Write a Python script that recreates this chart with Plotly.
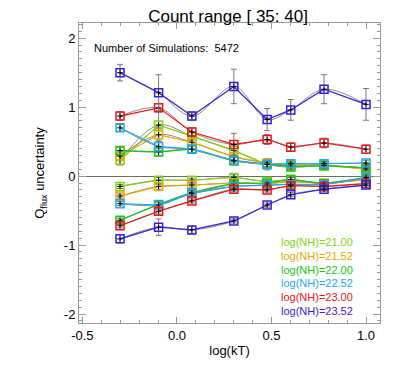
import plotly.graph_objects as go

# log(kT) grid
log_kt = [-0.301, -0.097, 0.079, 0.301, 0.477, 0.602, 0.778, 1.0]

nh_labels = ["log(NH)=21.00", "log(NH)=21.52", "log(NH)=22.00",
             "log(NH)=22.52", "log(NH)=23.00", "log(NH)=23.52"]
nh_colors = ["#7ed40e", "#eaa800", "#14c814", "#1fa8ec", "#ec1414", "#3a1cdc"]

# upper branch
pos_2100 = [0.23, 0.74, 0.58, 0.37, 0.17, 0.13, 0.15, 0.12]
pos_2152 = [0.29, 0.60, 0.49, 0.28, 0.19, 0.16, 0.16, 0.10]
pos_2200 = [0.37, 0.35, 0.39, 0.22, 0.17, 0.14, 0.15, 0.12]
pos_2252 = [0.70, 0.43, 0.39, 0.23, 0.17, 0.18, 0.18, 0.19]
pos_2300 = [0.87, 0.99, 0.64, 0.46, 0.53, 0.42, 0.48, 0.39]
pos_2352 = [1.50, 1.21, 0.87, 1.30, 0.82, 0.96, 1.26, 1.04]

# lower branch
neg_2100 = [-0.15, -0.06, -0.06, -0.02, -0.08, -0.05, -0.11, -0.02]
neg_2152 = [-0.29, -0.15, -0.13, -0.10, -0.11, -0.08, -0.10, -0.05]
neg_2200 = [-0.64, -0.41, -0.24, -0.11, -0.10, -0.05, -0.11, -0.03]
neg_2252 = [-0.40, -0.42, -0.25, -0.15, -0.13, -0.12, -0.12, -0.02]
neg_2300 = [-0.72, -0.51, -0.36, -0.19, -0.20, -0.14, -0.15, -0.11]
neg_2352 = [-0.91, -0.74, -0.78, -0.65, -0.42, -0.27, -0.19, -0.13]

# error bars
err_pos_2100 = [0.07, 0.20, 0.06, 0.08, 0.08, 0.05, 0.05, 0.05]
err_pos_2152 = [0.06, 0.10, 0.06, 0.06, 0.06, 0.04, 0.04, 0.04]
err_pos_2200 = [0.05, 0.06, 0.05, 0.05, 0.04, 0.04, 0.04, 0.04]
err_pos_2252 = [0.05, 0.08, 0.05, 0.04, 0.04, 0.04, 0.04, 0.04]
err_pos_2300 = [0.06, 0.06, 0.06, 0.16, 0.07, 0.06, 0.07, 0.06]
err_pos_2352 = [0.12, 0.26, 0.06, 0.25, 0.16, 0.15, 0.21, 0.23]
err_neg_small = [0.03, 0.04, 0.03, 0.04, 0.03, 0.03, 0.03, 0.03]
err_neg_2352 = [0.06, 0.12, 0.05, 0.03, 0.03, 0.03, 0.03, 0.03]

x_ticks = [-0.5, 0.0, 0.5, 1.0]
x_ticktext = ["-0.5", "0.0", "0.5", "1.0"]
y_ticks = [-2, -1, 0, 1, 2]
y_ticktext = ["-2", "-1", "0", "1", "2"]

FONT = "Liberation Sans, Arial, Helvetica, sans-serif"

series = [
    (pos_2100, err_pos_2100, 0), (pos_2152, err_pos_2152, 1),
    (pos_2200, err_pos_2200, 2), (pos_2252, err_pos_2252, 3),
    (pos_2300, err_pos_2300, 4), (pos_2352, err_pos_2352, 5),
    (neg_2100, err_neg_small, 0), (neg_2152, err_neg_small, 1),
    (neg_2200, err_neg_small, 2), (neg_2252, err_neg_small, 3),
    (neg_2300, err_neg_small, 4), (neg_2352, err_neg_2352, 5),
]

fig = go.Figure()

for vals, errs, k in series:
    # smooth grey curve underneath
    fig.add_trace(go.Scatter(
        x=log_kt, y=vals, mode="lines",
        line=dict(color="#8c8c8c", width=1, shape="spline", smoothing=1.0),
        hoverinfo="skip", showlegend=False))
    fig.add_trace(go.Scatter(
        x=log_kt, y=vals, mode="lines+markers",
        line=dict(color=nh_colors[k], width=1.2),
        marker=dict(symbol="square-open", size=8, color=nh_colors[k],
                    line=dict(width=1.5, color=nh_colors[k])),
        error_y=dict(type="data", array=errs, color="#7a7a7a",
                     thickness=1, width=3),
        showlegend=False))
    fig.add_trace(go.Scatter(
        x=log_kt, y=vals, mode="markers",
        marker=dict(symbol="cross-thin", size=4,
                    line=dict(width=1, color="black")),
        hoverinfo="skip", showlegend=False))

for i, (lab, col) in enumerate(zip(nh_labels, nh_colors)):
    fig.add_annotation(
        x=0.664, y=0.27 - i * 0.046, xref="paper", yref="paper",
        text=lab, showarrow=False, xanchor="left", yanchor="middle",
        font=dict(family=FONT, size=11, color=col))

fig.add_annotation(
    x=0.043, y=0.917, xref="paper", yref="paper",
    text="Number of Simulations:  5472", showarrow=False,
    xanchor="left", yanchor="middle",
    font=dict(family=FONT, size=11, color="black"))

axis_common = dict(
    showline=True, linecolor="#9a9a9a", linewidth=1, mirror="ticks",
    ticks="inside", tickcolor="#9a9a9a", showgrid=False,
    tickfont=dict(family=FONT, size=13, color="black"),
)

fig.update_xaxes(
    range=[-0.518, 1.074], tickvals=x_ticks, ticktext=x_ticktext,
    ticklen=6, zeroline=False,
    minor=dict(dtick=0.1, ticks="inside", ticklen=3, tickcolor="#9a9a9a",
               showgrid=False),
    title=dict(text="log(kT)", font=dict(family=FONT, size=13, color="black"),
               standoff=4),
    **axis_common)

fig.update_yaxes(
    range=[-2.13, 2.22], tickvals=y_ticks, ticktext=y_ticktext,
    ticklen=7, zeroline=True, zerolinecolor="#6e6e6e", zerolinewidth=1,
    minor=dict(dtick=0.1, ticks="inside", ticklen=3, tickcolor="#9a9a9a",
               showgrid=False),
    title=dict(text="Q<sub>flux</sub> uncertainty",
               font=dict(family=FONT, size=13, color="black"), standoff=16),
    **axis_common)

# the page body adds an 8px offset, so margins are shifted to compensate
fig.update_layout(
    width=403, height=378, autosize=False,
    margin=dict(l=71, r=31, t=15, b=63),
    paper_bgcolor="white", plot_bgcolor="white",
    title=dict(text="Count range [ 35: 40]", x=0.546, xanchor="center",
               y=0.994, yanchor="top", pad=dict(t=0, b=0),
               font=dict(family=FONT, size=17, color="black")),
    showlegend=False,
)

fig.write_html("out.html")
